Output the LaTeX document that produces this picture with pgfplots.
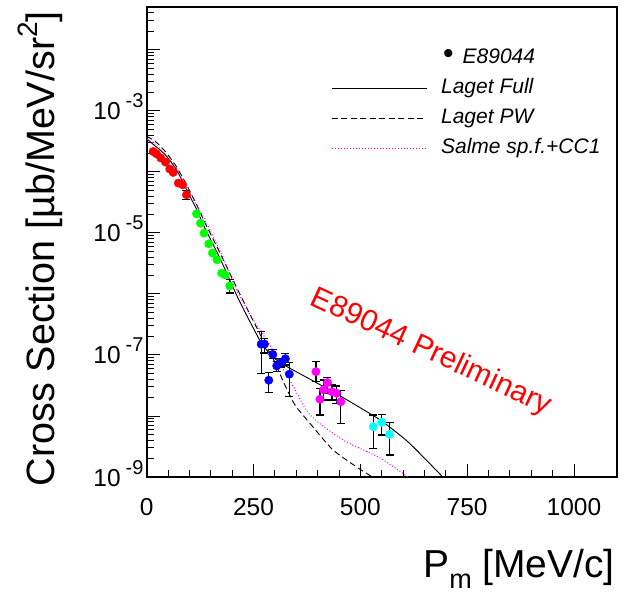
\documentclass[border=0pt]{standalone}
\usepackage{fontspec}
\setmainfont{Liberation Sans}
\usepackage{pgfplots}
\usepackage{pgfplotstable}
\pgfplotsset{compat=1.18}

\definecolor{rred}{RGB}{255,0,0}
\definecolor{rgreen}{RGB}{0,255,0}
\definecolor{rblue}{RGB}{0,0,255}
\definecolor{rmag}{RGB}{255,0,255}
\definecolor{rcyan}{RGB}{0,255,255}

% ROOT style exponent label
\newcommand{\dec}[1]{10\hspace{5pt}\raisebox{12pt}{\fontsize{20}{20}\selectfont #1}}

% data points (P_m, cross section, error up, error down)
\pgfplotstableread{
x y
15 2.15e-4
23 1.97e-4
33 1.68e-4
44 1.44e-4
54 1.11e-4
62 9.75e-5
74 6.53e-5
84 6.12e-5
}\redpts
\pgfplotstableread{
x y ep em
93 4.20e-5 0.70e-5 0.73e-5
}\redbar
\pgfplotstableread{
x y
116.5 2.05e-5
125.8 1.44e-5
134.2 9.89e-6
145.2 6.61e-6
153.8 4.65e-6
164.5 3.61e-6
175.4 2.18e-6
183.5 2.04e-6
}\greenpts
\pgfplotstableread{
x y ep em
194.1 1.35e-6 0.35e-6 0.32e-6
}\greenbar
\pgfplotstableread{
x y ep em
267.9 1.50e-7 0.91e-7 1.00e-7
275.6 1.50e-7 0.38e-7 0.43e-7
285.7 3.85e-8 1.35e-8 1.42e-8
295.0 1.02e-7 0.20e-7 0.15e-7
304.3 6.61e-8 1.15e-8 1.29e-8
314.5 7.53e-8 1.30e-8 1.20e-8
324.6 8.67e-8 2.00e-8 1.81e-8
333.9 4.84e-8 2.64e-8 2.77e-8
}\bluepts
\pgfplotstableread{
x y ep em
396.1 5.32e-8 2.44e-8 1.67e-8
405.4 1.88e-8 0.96e-8 0.84e-8
413.8 2.67e-8 1.22e-8 0.84e-8
423.1 3.52e-8 0.79e-8 1.16e-8
433.4 2.50e-8 0.72e-8 0.67e-8
444.1 2.36e-8 0.74e-8 0.75e-8
454.3 1.71e-8 0.89e-8 0.95e-8
}\magpts
\pgfplotstableread{
x y ep em
530.3 6.68e-9 3.70e-9 3.73e-9
549.9 7.87e-9 2.80e-9 2.98e-9
568.5 5.01e-9 2.75e-9 2.71e-9
}\cyanpts

% model curves
\pgfplotstableread{
x y
0 3.47e-4
15 2.82e-4
43 1.91e-4
70 1.07e-4
93 5.13e-5
117 2.40e-5
136 1.20e-5
175 3.39e-6
213 8.71e-7
245 3.16e-7
268 1.58e-7
282 1.17e-7
298 8.91e-8
320 6.92e-8
388 3.80e-8
450 2.19e-8
545 8.71e-9
606 4.07e-9
640 2.40e-9
693 1.00e-9
720 6.31e-10
}\lagetfull
\pgfplotstableread{
x y
0 3.80e-4
20 3.16e-4
45 2.09e-4
70 1.20e-4
93 6.17e-5
117 2.88e-5
136 1.48e-5
175 4.17e-6
213 1.17e-6
225 7.94e-7
268 2.00e-7
300 7.59e-8
318 3.89e-8
334 2.24e-8
350 1.41e-8
388 6.76e-9
435 2.82e-9
490 1.48e-9
528 1.00e-9
560 7.08e-10
}\lagetpw
\pgfplotstableread{
x y
0 3.39e-4
20 2.82e-4
45 1.91e-4
70 1.12e-4
93 5.62e-5
117 2.82e-5
140 1.45e-5
175 4.47e-6
210 1.17e-6
240 4.79e-7
268 2.40e-7
290 1.38e-7
311 7.41e-8
342 3.16e-8
373 1.26e-8
404 7.59e-9
466 3.80e-9
544 2.09e-9
598 1.17e-9
610 1.00e-9
640 6.31e-10
}\salme

\begin{document}
\begin{tikzpicture}
\useasboundingbox (0,0) rectangle (629pt,-593pt);
\begin{axis}[
    at={(146.7pt,-477pt)}, anchor=south west,
    width=470pt, height=470pt, scale only axis,
    ymode=log,
    xmin=0, xmax=1100,
    ymin=1e-9, ymax=0.05,
    axis line style={line width=2pt},
    tick style={black, line width=0.9pt},
    major tick length=13pt, minor tick length=7pt,
    tick align=inside, tick pos=left,
    xtick={0,250,500,750,1000},
    xticklabels={0,250,500,750,1000},
    minor x tick num=4,
    ytick={1e-9,1e-8,1e-7,1e-6,1e-5,1e-4,1e-3,1e-2},
    yticklabels={\dec{-9},,\dec{-7},,\dec{-5},,\dec{-3},},
    minor ytick={2e-9,3e-9,4e-9,5e-9,6e-9,7e-9,8e-9,9e-9,
                 2e-8,3e-8,4e-8,5e-8,6e-8,7e-8,8e-8,9e-8,
                 2e-7,3e-7,4e-7,5e-7,6e-7,7e-7,8e-7,9e-7,
                 2e-6,3e-6,4e-6,5e-6,6e-6,7e-6,8e-6,9e-6,
                 2e-5,3e-5,4e-5,5e-5,6e-5,7e-5,8e-5,9e-5,
                 2e-4,3e-4,4e-4,5e-4,6e-4,7e-4,8e-4,9e-4,
                 2e-3,3e-3,4e-3,5e-3,6e-3,7e-3,8e-3,9e-3,
                 2e-2,3e-2,4e-2,5e-2},
    tick label style={font=\fontsize{24.5}{24.5}\selectfont},
    xticklabel style={inner sep=0pt, anchor=north, yshift=-21pt},
    yticklabel style={inner sep=0pt, anchor=base east, xshift=-3pt, yshift=-9pt},
    legend style={draw=none, fill=none, at={(0.392,0.913)}, anchor=north west,
        inner sep=0pt, row sep=10.8pt,
        font=\fontsize{21}{21}\selectfont\itshape,
        nodes={inner sep=0pt, text height=15pt, text depth=4.5pt},
        /tikz/every odd column/.append style={column sep=14pt}},
    legend cell align=left,
    legend image code/.code={\draw[#1] (0pt,0pt) -- (95pt,0pt);},
]
\addlegendimage{empty legend}
\addlegendentry{\hspace{2pt}{\fontsize{30}{21}\selectfont\upshape•}\hspace{9pt}E89044}
\addlegendimage{black, line width=0.9pt}
\addlegendentry{Laget Full}
\addlegendimage{black, line width=0.9pt, dash pattern=on 6pt off 3.5pt}
\addlegendentry{Laget PW}
\addlegendimage{rmag, line width=1pt, dash pattern=on 1pt off 2pt}
\addlegendentry{Salme sp.f.+CC1}

% model curves
\addplot[black, line width=0.9pt, smooth, tension=0.4, forget plot] table {\lagetfull};
\addplot[black, line width=0.9pt, dash pattern=on 6pt off 3.5pt, smooth, tension=0.4, forget plot] table {\lagetpw};
\addplot[rmag, line width=1pt, dash pattern=on 1pt off 2pt, smooth, tension=0.4, forget plot] table {\salme};

% data
\pgfplotsset{
  ebar/.style={only marks, mark=*, mark size=4.2pt, forget plot,
    error bars/.cd, y dir=both, y explicit,
    error bar style={black, line width=1.3pt},
    error mark options={rotate=90, black, mark size=4pt, line width=1.3pt}},
}
\addplot[only marks, mark=*, mark size=4.2pt, rred, forget plot] table {\redpts};
\addplot[rred, ebar] table[x=x, y=y, y error plus=ep, y error minus=em] {\redbar};
\addplot[only marks, mark=*, mark size=4.2pt, rgreen, forget plot] table {\greenpts};
\addplot[rgreen, ebar] table[x=x, y=y, y error plus=ep, y error minus=em] {\greenbar};
\addplot[rblue, ebar] table[x=x, y=y, y error plus=ep, y error minus=em] {\bluepts};
\addplot[rmag, ebar] table[x=x, y=y, y error plus=ep, y error minus=em] {\magpts};
\addplot[rcyan, ebar] table[x=x, y=y, y error plus=ep, y error minus=em] {\cyanpts};

\node[rred, rotate=-25, font=\fontsize{30}{30}\selectfont] at (axis cs:665,1.1e-7) {E89044 Preliminary};
\end{axis}

% axis titles
\node[rotate=90, anchor=base east, inner sep=0pt, font=\fontsize{39.5}{39.5}\selectfont]
  at (54pt,-11pt) {Cross Section [µb/MeV/sr\raisebox{17pt}{\fontsize{28}{28}\selectfont 2}]};
\node[anchor=base east, inner sep=0pt, font=\fontsize{39}{39}\selectfont]
  at (615pt,-577pt) {P\raisebox{-11pt}{\fontsize{27}{27}\selectfont m} [MeV/c]};
\end{tikzpicture}
\end{document}
